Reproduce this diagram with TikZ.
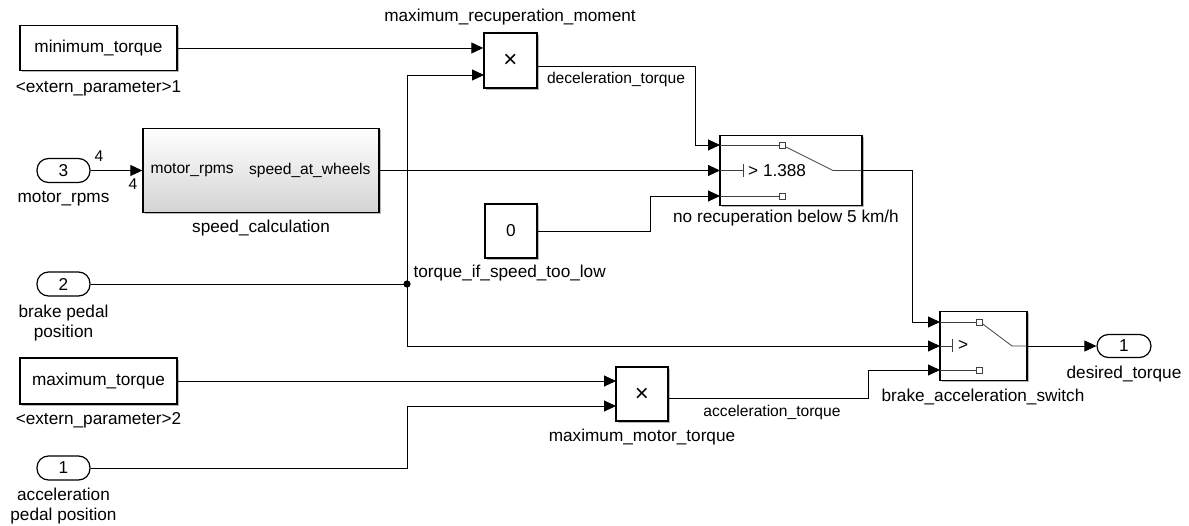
\documentclass[tikz,border=0pt]{standalone}
\usepackage{fontspec}
\setmainfont{Liberation Sans}
\usetikzlibrary{arrows.meta,shadows,calc}
\begin{document}
\begin{tikzpicture}[x=1pt,y=-1pt,
  big/.style={font=\fontsize{17.2}{20}\selectfont},
  sml/.style={font=\fontsize{15.6}{18}\selectfont},
  shad/.style={drop shadow={shadow xshift=1.6pt,shadow yshift=-1.6pt,opacity=0.28,fill=black}},
  blk/.style={draw,line width=1.4pt,fill=white,inner sep=0pt,shad},
  port/.style={draw,line width=1.2pt,fill=white,rounded corners=11.5pt,inner sep=0pt,minimum width=53pt,minimum height=24pt,big},
  sig/.style={line width=0.9pt,-{Triangle[length=12pt,width=11pt]}},
  wire/.style={line width=0.9pt},
  inner/.style={line width=0.8pt,draw=black!75},
  mult/.style={font=\fontsize{24}{26}\selectfont}
]
\useasboundingbox (0,0) rectangle (1189,526);

% ---- blocks ----
\node[blk,big,minimum width=157pt,minimum height=45pt] (minT) at (98.5,48) {minimum\_torque};
\node[big] (minTlbl) at (98.5,88) {<extern\_parameter>1};

\node[blk,minimum width=53pt,minimum height=55pt] (prod1) at (510.5,60.5) {};
\node[mult] (prod1x) at (510.5,61) {×};
\node[big] (prod1lbl) at (510,17) {maximum\_recuperation\_moment};

\node[draw,line width=1.4pt,top color=white,bottom color=black!17,inner sep=0pt,shad,minimum width=236pt,minimum height=84pt] (speed) at (261,170.5) {};
\node[sml,anchor=west] (speedin) at (147,170.5) {motor\_rpms};
\node[sml,anchor=east] (speedout) at (374,170.5) {speed\_at\_wheels};
\node[big] (speedlbl) at (261,228) {speed\_calculation};

\node[port] (in3) at (63.5,170.5) {3};
\node[big] (in3lbl) at (63.5,199) {motor\_rpms};
\node[sml] (w1) at (99,156) {4};
\node[sml] (w2) at (133,184.5) {4};

\node[blk,big,minimum width=52pt,minimum height=54pt] (const0) at (511,231) {0};

\node[blk,minimum width=142pt,minimum height=70pt] (sw1) at (791,170.5) {};
\node[big] (sw1lbl) at (786,218) {no recuperation below 5 km/h};

\node[port] (in2) at (63.5,284) {2};
\node[big,align=center] (in2lbl) at (63.5,323) {brake pedal\\position};

\node[blk,big,minimum width=157pt,minimum height=46pt] (maxT) at (98.5,381) {maximum\_torque};
\node[big] (maxTlbl) at (98.5,420) {<extern\_parameter>2};

\node[port] (in1) at (63.5,468) {1};
\node[big,align=center] (in1lbl) at (63.5,506) {acceleration\\pedal position};

\node[blk,minimum width=52pt,minimum height=54pt] (prod2) at (642,394) {};
\node[mult] (prod2x) at (642,394.5) {×};
\node[big] (prod2lbl) at (642,437) {maximum\_motor\_torque};

\node[blk,minimum width=87pt,minimum height=69pt] (sw2) at (983.5,346) {};
\node[big] (sw2lbl) at (983,397) {brake\_acceleration\_switch};

\node[port,minimum width=54pt,minimum height=23pt] (out1) at (1124,346) {1};
\node[big] (out1lbl) at (1124,374) {desired\_torque};

% ---- ports ----
\coordinate (p1in2) at (484,75);
\coordinate (p1out) at (537,66);
\coordinate (sw1in1) at (720,145);
\coordinate (sw1in2) at (720,170.5);
\coordinate (sw1in3) at (720,196);
\coordinate (sw1out) at (862,170.5);
\coordinate (sw2in1) at (940,322);
\coordinate (sw2in2) at (940,346);
\coordinate (sw2in3) at (940,370);
\coordinate (sw2out) at (1027,346);
\coordinate (p2in1) at (616,381);
\coordinate (p2in2) at (616,406);
\coordinate (p2out) at (668,398);
\coordinate (jct) at (407,284);

% ---- switch internals ----
\draw[inner] (sw1in1) -- (779,145);
\draw[inner] (779,142) rectangle (785,148);
\draw[inner] (785,146.5) -- (833,170.5) -- (sw1out);
\draw[inner] (sw1in2) -- (743,170.5);
\draw[inner] (743,164) -- (743,177);
\node[big,anchor=west,inner sep=0pt] (thr1) at (748,170.5) {> 1.388};
\draw[inner] (sw1in3) -- (779,196);
\draw[inner] (779,193) rectangle (785,199);

\draw[inner] (sw2in1) -- (976,322);
\draw[inner] (976,319) rectangle (982,325);
\draw[inner] (982,323.5) -- (1012,346) -- (sw2out);
\draw[inner] (sw2in2) -- (952,346);
\draw[inner] (952,339.5) -- (952,352.5);
\node[big,anchor=west,inner sep=0pt] (thr2) at (958,345.5) {>};
\draw[inner] (sw2in3) -- (976,370);
\draw[inner] (976,367) rectangle (982,373);

% ---- signal lines ----
\draw[sig] (minT.east) -- (minT.east -| prod1.west);
\draw[sig] (in3.east) -- (speed.west);
\draw[wire] (in2.east) -- (jct);
\draw[sig] (jct) |- (p1in2);
\draw[sig] (jct) |- (sw2in2);
\fill (jct) circle (3.6pt);
\draw[sig] (p1out) -- ++(158,0) |- (sw1in1);
\draw[sig] (speed.east) -- (sw1in2);
\draw[sig] (const0.east) -- ++(113,0) |- (sw1in3);
\draw[sig] (sw1out) -- ++(50,0) |- (sw2in1);
\draw[sig] (maxT.east) -- (p2in1);
\draw[sig] (in1.east) -| (jct |- p2in2) -- (p2in2);
\draw[sig] (p2out) -- ++(200,0) |- (sw2in3);
\draw[sig] (sw2out) -- (out1.west);

% ---- signal labels ----
\node[sml] (declbl) at (616,79) {deceleration\_torque};
\node[big,anchor=west] (tlowlbl) at (410,273) {torque\_if\_speed\_too\_low};
\node[sml] (acclbl) at (772,412) {acceleration\_torque};
\end{tikzpicture}
\end{document}
